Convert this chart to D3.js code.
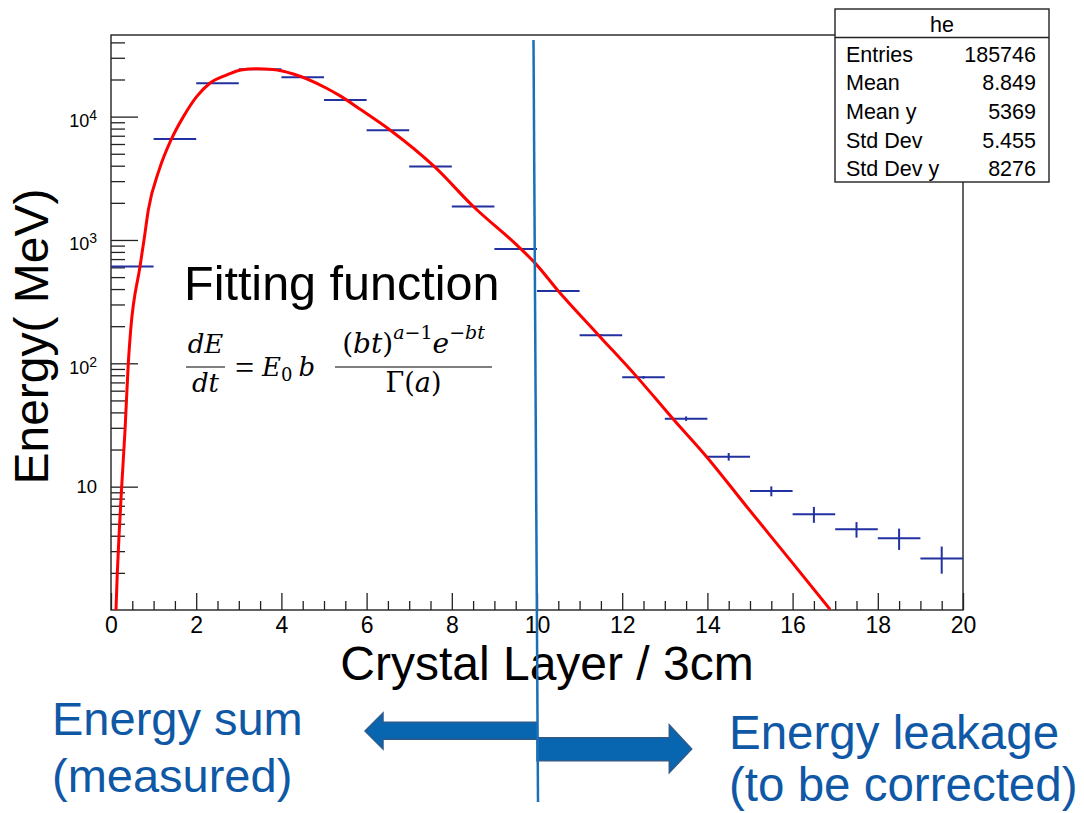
<!DOCTYPE html>
<html>
<head>
<meta charset="utf-8">
<script src="https://cdn.jsdelivr.net/npm/d3@7/dist/d3.min.js"></script>
<style>
body { margin: 0; background: #fff; }
svg { display: block; font-family: "Liberation Sans", Arial, sans-serif; }
</style>
</head>
<body>
<svg></svg>
<script>
// histogram "he" : energy deposit per crystal layer (bin low edge, content, error)
let layerLow = [0, 1, 2, 3, 4, 5, 6, 7, 8, 9, 10, 11, 12, 13, 14, 15, 16, 17, 18, 19];
let energy = [610, 6590, 18660, 24200, 20850, 13660, 7750, 3950, 1865, 845,
              386, 169, 77, 35.6, 17.5, 9.2, 5.97, 4.51, 3.82, 2.62];
let energyErr = [6, 20, 35, 40, 36, 28, 20, 14, 10, 7,
                 5, 3, 2, 1.5, 1.25, 0.85, 0.88, 0.65, 0.75, 0.65];

// red fit curve
let fitT = [0.117, 0.148, 0.196, 0.251, 0.33, 0.406, 0.462, 0.681, 0.775, 0.876,
            1.13, 1.42, 1.70, 2.01, 2.32, 2.72, 3.05, 3.42, 3.8, 4.28, 5.06,
            5.38, 5.85, 6.55, 7.6, 8.50, 9.6, 9.95, 10.5, 11.44, 12.34,
            13.2, 13.98, 14.92, 15.94, 16.88];
let fitE = [1, 2, 4.5, 10, 29, 100, 186, 610, 1000, 1750,
            3700, 6590, 10000, 14530, 18660, 21780, 23900, 24500, 24100, 22170, 17000,
            14730, 11480, 7800, 3910, 1876, 860, 652, 386, 170, 78,
            35.2, 17.5, 6.9, 2.55, 1.01];

let xTicks = [0, 2, 4, 6, 8, 10, 12, 14, 16, 18, 20];
let yTicks = [10, 100, 1000, 10000];
let yTickSup = ['', '2', '3', '4'];

let statNames = ['Entries', 'Mean', 'Mean y', 'Std Dev', 'Std Dev y'];
let statValues = ['185746', '8.849', '5369', '5.455', '8276'];

let width = 1084;
let height = 813;
let frame = { left: 111, right: 963, top: 35, bottom: 610 };

let svg = d3.select('svg').attr('width', width).attr('height', height);
svg.append('rect').attr('width', width).attr('height', height).attr('fill', '#fff');

let xScale = d3.scaleLinear().domain([0, 20]).range([frame.left, frame.right]);
let yScale = d3.scaleLog().domain([1, 45900]).range([frame.bottom, frame.top]);

// minor tick positions
let xMinor = d3.range(0, 20.01, 0.5).filter(v => v % 2 !== 0);
let yMinor = [];
[1, 10, 100, 1000, 10000].forEach(d => {
    for (let m = 2; m <= 9; m++) if (d * m <= 45900) yMinor.push(d * m);
});

let drawAxes = () => {
    let ax = svg.append('g').attr('stroke-width', 1.3);
    let xMaj = ax.append('g').attr('transform', `translate(0,${frame.bottom})`)
        .call(d3.axisBottom(xScale).tickValues(xTicks).tickSizeInner(-17).tickSizeOuter(0)
              .tickPadding(7).tickFormat(d3.format('d')));
    xMaj.selectAll('text').attr('font-size', 23).attr('font-family', '"Liberation Sans", Arial, sans-serif').attr('fill', '#000');
    ax.append('g').attr('transform', `translate(0,${frame.bottom})`)
        .call(d3.axisBottom(xScale).tickValues(xMinor).tickSizeInner(-9).tickSizeOuter(0).tickFormat(''));

    ax.append('g').attr('transform', `translate(${frame.left},0)`)
        .call(d3.axisLeft(yScale).tickValues(yTicks).tickSizeInner(-27).tickSizeOuter(0).tickFormat(''));
    ax.append('g').attr('transform', `translate(${frame.left},0)`)
        .call(d3.axisLeft(yScale).tickValues(yMinor).tickSizeInner(-14).tickSizeOuter(0).tickFormat(''));
    ax.selectAll('.domain').remove();
    ax.selectAll('line').attr('stroke', '#222');

    // y labels 10, 10^2 ...
    yTicks.forEach((v, i) => {
        let t = svg.append('text').attr('text-anchor', 'end').attr('x', 97).attr('fill', '#000');
        if (yTickSup[i] === '') {
            t.attr('y', yScale(v) + 6.5).attr('font-size', 18.5).text('10');
        } else {
            t.attr('y', yScale(v) + 10.5).attr('font-size', 18);
            t.append('tspan').text('10');
            t.append('tspan').attr('font-size', 14).attr('dy', -7).text(yTickSup[i]);
        }
    });

    svg.append('rect')
        .attr('x', frame.left).attr('y', frame.top)
        .attr('width', frame.right - frame.left).attr('height', frame.bottom - frame.top)
        .attr('fill', 'none').attr('stroke', '#222').attr('stroke-width', 1.4);
};

let drawHist = () => {
    let g = svg.append('g').attr('stroke', '#2231a0').attr('stroke-width', 2);
    layerLow.forEach((lo, i) => {
        g.append('line')
            .attr('x1', xScale(lo)).attr('x2', xScale(lo + 1))
            .attr('y1', yScale(energy[i])).attr('y2', yScale(energy[i]));
        g.append('line')
            .attr('x1', xScale(lo + 0.5)).attr('x2', xScale(lo + 0.5))
            .attr('y1', yScale(energy[i] - energyErr[i])).attr('y2', yScale(energy[i] + energyErr[i]));
    });
};

let drawFit = () => {
    svg.append('clipPath').attr('id', 'plotclip').append('rect')
        .attr('x', frame.left).attr('y', frame.top)
        .attr('width', frame.right - frame.left).attr('height', frame.bottom - frame.top);
    let line = d3.line()
        .x((d, i) => xScale(fitT[i]))
        .y(d => yScale(d))
        .curve(d3.curveMonotoneX);
    svg.append('path')
        .attr('clip-path', 'url(#plotclip)')
        .attr('d', line(fitE))
        .attr('fill', 'none').attr('stroke', '#ff0000').attr('stroke-width', 3);
};

let drawStats = () => {
    let bx = 835, by = 9, bw = 214, bh = 173;
    let g = svg.append('g');
    g.append('rect').attr('x', bx).attr('y', by).attr('width', bw).attr('height', bh)
        .attr('fill', '#fff').attr('stroke', '#222').attr('stroke-width', 1.4);
    g.append('line').attr('x1', bx).attr('x2', bx + bw).attr('y1', 37.5).attr('y2', 37.5)
        .attr('stroke', '#222').attr('stroke-width', 1.4);
    g.append('text').attr('x', bx + bw / 2).attr('y', 32).attr('text-anchor', 'middle')
        .attr('font-size', 21.5).text('he');
    statNames.forEach((n, i) => {
        let yy = 61.7 + i * 28.6;
        g.append('text').attr('x', 846).attr('y', yy).attr('font-size', 21.5).text(n);
        g.append('text').attr('x', 1036).attr('y', yy).attr('font-size', 21.5)
            .attr('text-anchor', 'end').text(statValues[i]);
    });
};

let drawTitles = () => {
    svg.append('text').attr('transform', 'translate(48,336.5) rotate(-90)')
        .attr('text-anchor', 'middle').attr('font-size', 48).text('Energy( MeV)');
    svg.append('text').attr('x', 547).attr('y', 680)
        .attr('text-anchor', 'middle').attr('font-size', 48).text('Crystal Layer / 3cm');
    svg.append('text').attr('x', 184).attr('y', 300)
        .attr('font-size', 48.5).text('Fitting function');
};

let drawFormula = () => {
    let g = svg.append('g').attr('font-family', '"DejaVu Serif", "Liberation Serif", serif')
        .attr('font-size', 26).attr('fill', '#000');
    // dE/dt
    g.append('text').attr('x', 205.5).attr('y', 353).attr('text-anchor', 'middle')
        .attr('font-style', 'italic').text('dE');
    g.append('line').attr('x1', 186).attr('x2', 225).attr('y1', 367).attr('y2', 367)
        .attr('stroke', '#000').attr('stroke-width', 1.2);
    g.append('text').attr('x', 205.5).attr('y', 392).attr('text-anchor', 'middle')
        .attr('font-style', 'italic').text('dt');
    g.append('text').attr('x', 235).attr('y', 379).attr('font-size', 34)
        .attr('font-family', '"Liberation Serif", serif').text('=');
    let e0 = g.append('text').attr('x', 262).attr('y', 376);
    e0.append('tspan').attr('font-style', 'italic').text('E');
    e0.append('tspan').attr('font-size', 18).attr('dy', 5).text('0');
    e0.append('tspan').attr('font-style', 'italic').attr('dy', -5).attr('dx', 6).text('b');
    // big fraction
    let num = g.append('text').attr('x', 413.5).attr('y', 353).attr('text-anchor', 'middle')
        .attr('font-size', 28);
    num.append('tspan').text('(');
    num.append('tspan').attr('font-style', 'italic').text('bt');
    num.append('tspan').text(')');
    num.append('tspan').attr('font-size', 19).attr('font-style', 'italic').attr('dy', -14).text('a');
    num.append('tspan').attr('font-size', 19).text('\u22121');
    num.append('tspan').attr('font-style', 'italic').attr('dy', 14).text('e');
    num.append('tspan').attr('font-size', 19).attr('dy', -14).text('\u2212');
    num.append('tspan').attr('font-size', 19).attr('font-style', 'italic').text('bt');
    g.append('line').attr('x1', 335).attr('x2', 492).attr('y1', 367).attr('y2', 367)
        .attr('stroke', '#000').attr('stroke-width', 1.2);
    let den = g.append('text').attr('x', 413.5).attr('y', 392).attr('text-anchor', 'middle')
        .attr('font-size', 27);
    den.append('tspan').text('\u0393(');
    den.append('tspan').attr('font-style', 'italic').text('a');
    den.append('tspan').text(')');
};

let drawNotes = () => {
    let blue = '#0f58a6';
    let t1 = svg.append('text').attr('font-size', 47).attr('fill', blue);
    t1.append('tspan').attr('x', 52).attr('y', 735).text('Energy sum');
    t1.append('tspan').attr('x', 52).attr('y', 792).text('(measured)');
    let t2 = svg.append('text').attr('font-size', 47.5).attr('fill', blue);
    t2.append('tspan').attr('x', 729).attr('y', 749).text('Energy leakage');
    t2.append('tspan').attr('x', 729).attr('y', 801).text('(to be corrected)');

    let split = xScale(10);
    let left = [[365, 731], [383, 713], [383, 722.3], [split, 722.3], [split, 739.3], [383, 739.3], [383, 749]];
    let right = [[split, 737.7], [669.3, 737.7], [669.3, 725], [691.7, 749], [669.3, 772.7], [669.3, 760.7], [split, 760.7]];
    [left, right].forEach(p => {
        svg.append('path').attr('d', d3.line()(p) + 'Z')
            .attr('fill', '#0866b0').attr('stroke', '#2f5a8a').attr('stroke-width', 1.5);
    });

    svg.append('line')
        .attr('x1', split - 3.5).attr('y1', 40)
        .attr('x2', split + 1).attr('y2', 802)
        .attr('stroke', '#1a70b8').attr('stroke-width', 2.5);
};

drawAxes();
drawHist();
drawFit();
drawStats();
drawTitles();
drawFormula();
drawNotes();
</script>
</body>
</html>
